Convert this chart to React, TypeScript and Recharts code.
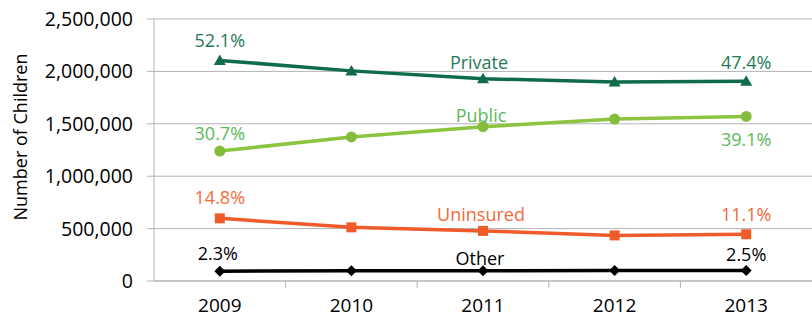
import React from 'react';
import { LineChart, Line, XAxis, YAxis, CartesianGrid, LabelList } from 'recharts';

const years = ['2009', '2010', '2011', '2012', '2013'];
const privateValues = [2105000, 2005000, 1930000, 1900000, 1905000];
const publicValues = [1240000, 1375000, 1472000, 1545000, 1570000];
const uninsuredValues = [598000, 512000, 478000, 435000, 446000];
const otherValues = [94000, 97000, 98000, 100000, 100000];

const privateLabels = ['52.1%', '', 'Private', '', '47.4%'];
const publicLabels = ['30.7%', '', 'Public', '', '39.1%'];
const uninsuredLabels = ['14.8%', '', 'Uninsured', '', '11.1%'];
const otherLabels = ['2.3%', '', 'Other', '', '2.5%'];

const yTicks = [0, 500000, 1000000, 1500000, 2000000, 2500000];
const yTitle = 'Number of Children';

const data = years.map((year, i) => ({
  year,
  private: privateValues[i],
  public: publicValues[i],
  uninsured: uninsuredValues[i],
  other: otherValues[i],
}));

const FONT = '"Open Sans", sans-serif';
const GRID = '#b3b3b3';
const CHART_W = 812;
const Y_AXIS_W = 154;
const HALF_BAND = (CHART_W - Y_AXIS_W) / years.length / 2;

const makeLabel = (labels: string[], dys: number[], dxs: number[], color: string) => (p: any) => {
  const { x, y, index } = p;
  const t = labels[index];
  if (!t) return null;
  return (
    <text
      key={`l-${index}`}
      x={x + dxs[index]}
      y={y + dys[index]}
      textAnchor="middle"
      dominantBaseline="central"
      fill={color}
      fontSize={18}
      fontFamily={FONT}
    >
      {t}
    </text>
  );
};

const triangleDot = (color: string) => (p: any) => {
  const { cx, cy, index } = p;
  const s = 6;
  return (
    <polygon
      key={`t-${index}`}
      points={`${cx},${cy - s} ${cx + s},${cy + s * 0.75} ${cx - s},${cy + s * 0.75}`}
      fill={color}
    />
  );
};
const circleDot = (color: string) => (p: any) => {
  const { cx, cy, index } = p;
  return <circle key={`c-${index}`} cx={cx} cy={cy} r={5.5} fill={color} />;
};
const squareDot = (color: string) => (p: any) => {
  const { cx, cy, index } = p;
  const s = 5;
  return <rect key={`s-${index}`} x={cx - s} y={cy - s} width={2 * s} height={2 * s} fill={color} />;
};
const diamondDot = (color: string) => (p: any) => {
  const { cx, cy, index } = p;
  const s = 5.5;
  return (
    <polygon
      key={`d-${index}`}
      points={`${cx},${cy - s} ${cx + s},${cy} ${cx},${cy + s} ${cx - s},${cy}`}
      fill={color}
    />
  );
};

const XTick = (p: any) => {
  const { x, y, payload, index } = p;
  const axisY = y - 9;
  return (
    <g>
      {index > 0 && (
        <line x1={x - HALF_BAND} y1={axisY} x2={x - HALF_BAND} y2={axisY + 7} stroke={GRID} strokeWidth={1} />
      )}
      <text
        x={x}
        y={axisY + 31}
        textAnchor="middle"
        fill="#000"
        fontSize={19}
        fontFamily={FONT}
      >
        {payload.value}
      </text>
    </g>
  );
};

const YTitle = (p: any) => {
  const vb = p.viewBox || { x: 0, y: 19, width: 154, height: 262 };
  const cx = vb.x + 20;
  const cy = vb.y + vb.height / 2 - 13;
  return (
    <text
      x={cx}
      y={cy}
      transform={`rotate(-90, ${cx}, ${cy})`}
      textAnchor="middle"
      dominantBaseline="central"
      fontSize={18}
      fontFamily={FONT}
      fill="#000"
    >
      {yTitle}
    </text>
  );
};

export default function App() {
  return (
    <div style={{ position: 'absolute', left: 0, top: 0, width: CHART_W, height: 318, background: '#fff' }}>
      <LineChart width={CHART_W} height={318} data={data} margin={{ top: 19, right: 0, bottom: 7, left: 0 }}>
        <CartesianGrid horizontal vertical={false} stroke={GRID} />
        <XAxis
          dataKey="year"
          height={30}
          axisLine={{ stroke: GRID }}
          tickLine={false}
          tickSize={7}
          tickMargin={2}
          tick={<XTick />}
          interval={0}
          padding={{ left: HALF_BAND, right: HALF_BAND }}
        />
        <YAxis
          width={Y_AXIS_W}
          domain={[0, 2500000]}
          ticks={yTicks}
          interval={0}
          axisLine={{ stroke: GRID }}
          tickLine={{ stroke: GRID }}
          tickSize={7}
          tickMargin={14}
          tick={{ fill: '#000', fontSize: 19.5, fontFamily: FONT }}
          tickFormatter={(v: number) => v.toLocaleString('en-US')}
          label={<YTitle />}
        />
        <Line
          dataKey="private"
          stroke="#0f6b48"
          strokeWidth={3.5}
          dot={triangleDot('#0f6b48')}
          isAnimationActive={false}
        >
          <LabelList content={makeLabel(privateLabels, [-20, 0, -17, 0, -19], [0, 0, -4, 0, 0], '#1f7a58')} />
        </Line>
        <Line
          dataKey="public"
          stroke="#8cc43f"
          strokeWidth={3.5}
          dot={circleDot('#84bd3c')}
          isAnimationActive={false}
        >
          <LabelList content={makeLabel(publicLabels, [-18, 0, -12, 0, 23], [0, 0, -2, 0, 0], '#5cb85a')} />
        </Line>
        <Line
          dataKey="uninsured"
          stroke="#f15a29"
          strokeWidth={3.5}
          dot={squareDot('#f15a29')}
          isAnimationActive={false}
        >
          <LabelList content={makeLabel(uninsuredLabels, [-21, 0, -17, 0, -20], [0, 0, -2, 0, 0], '#f26b3a')} />
        </Line>
        <Line
          dataKey="other"
          stroke="#000"
          strokeWidth={3.5}
          dot={diamondDot('#000')}
          isAnimationActive={false}
        >
          <LabelList content={makeLabel(otherLabels, [-18, 0, -13, 0, -17], [-2, 0, -3, 0, 0], '#000')} />
        </Line>
      </LineChart>
    </div>
  );
}
